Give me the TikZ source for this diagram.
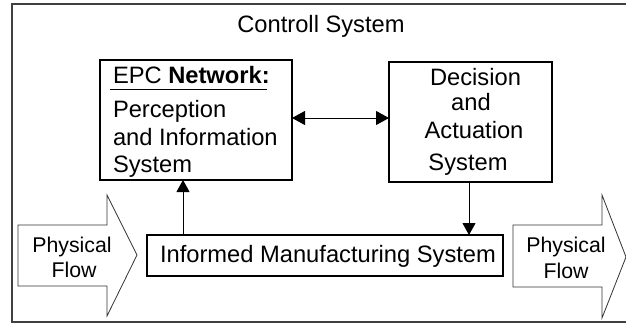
\documentclass[tikz,border=0pt]{standalone}
\usepackage{fontspec}
\setmainfont{Liberation Sans}
\usetikzlibrary{arrows.meta}
\begin{document}
\begin{tikzpicture}[x=1pt,y=-1pt,
  mainfont/.style={font=\fontsize{23.7}{27}\selectfont},
  flowfont/.style={font=\fontsize{21.3}{25}\selectfont},
  txt/.style={mainfont,inner sep=0pt,outer sep=0pt,anchor=base},
  ftxt/.style={flowfont,inner sep=0pt,outer sep=0pt,anchor=base},
  sysbox/.style={draw=black,line width=1.1pt,inner sep=0pt,outer sep=0pt},
  flowarrow/.style={draw=black!80,line width=0.8pt,fill=white},
  conn/.style={draw=black,line width=1pt,-{Triangle[length=12pt,width=13pt]}},
  dconn/.style={draw=black,line width=1pt,{Triangle[length=13pt,width=14pt]}-{Triangle[length=13pt,width=14pt]}}]
\clip (0,0) rectangle (626,324);
\fill[white] (0,0) rectangle (626,324);
% outer frame
\draw[black!75,line width=1.5pt] (12,4) rectangle (640,322);
\node[txt] (title) at (321,32) {Controll System};
% boxes
\node[sysbox,minimum width=192pt,minimum height=120pt] (epc) at (196,120) {};
\node[sysbox,minimum width=163pt,minimum height=120pt] (dec) at (470.5,122) {};
\node[sysbox,minimum width=356pt,minimum height=41pt] (inf) at (325,255.5) {};
% EPC text
\node[txt,anchor=base west] (epch) at (113,83) {EPC \textbf{Network:}};
\draw[black,line width=1pt] (epch.base west) ++(-3,6) coordinate (ul1) -- ++(157,0) coordinate (ul2);
\node[txt,anchor=base west] (p1) at (113,117) {Perception};
\node[txt,anchor=base west] (p2) at (113,145) {and Information};
\node[txt,anchor=base west] (p3) at (113,172) {System};
% Decision text
\node[txt] (d1) at (475.5,85) {Decision};
\node[txt] (d2) at (471,110) {and};
\node[txt] (d3) at (474,138) {Actuation};
\node[txt] (d4) at (468,170) {System};
% Informed text
\node[txt] (inft) at (328,262) {Informed Manufacturing System};
% flow arrows
\draw[flowarrow] (18,225) coordinate (la1) -- (107,225) -- (107,195) -- (137,255) -- (107,316) -- (107,286) -- (18,286) -- cycle;
\draw[flowarrow] (513,225) coordinate (ra1) -- (602,225) -- (602,195) -- (626,257) -- (602,318) -- (602,287) -- (513,287) -- cycle;
\node[ftxt] (lf1) at (72,252) {Physical};
\node[ftxt] (lf2) at (74,277) {Flow};
\node[ftxt] (rf1) at (566,252) {Physical};
\node[ftxt] (rf2) at (566,278) {Flow};
% connectors
\coordinate (up) at (183,0);
\coordinate (dn) at (469,0);
\coordinate (hz) at (0,118);
\draw[conn] (up |- inf.north) -- (up |- epc.south);
\draw[conn] (dn |- dec.south) -- (dn |- inf.north);
\draw[dconn] (epc.east |- hz) -- (dec.west |- hz);
\end{tikzpicture}
\end{document}
